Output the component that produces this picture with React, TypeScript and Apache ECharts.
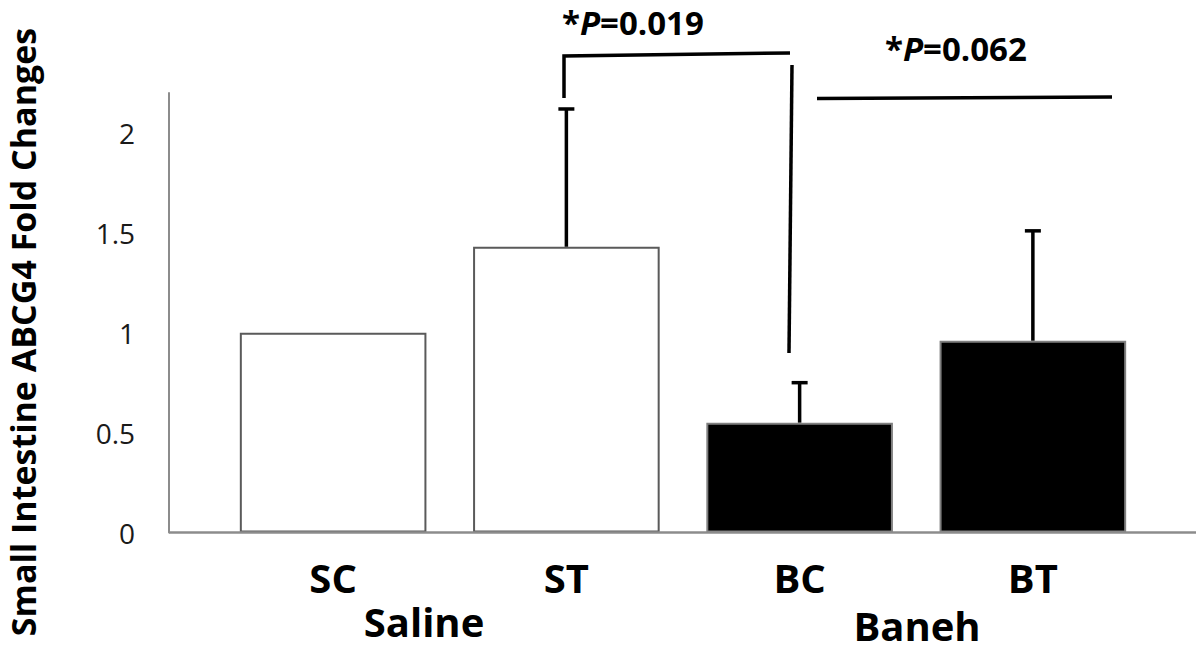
import React, { useEffect, useRef } from "react";
import * as echarts from "echarts";

const categories = ["SC", "ST", "BC", "BT"];
const means = [1.0, 1.43, 0.55, 0.96];
const upperErrors = [0, 0.69, 0.2, 0.55];
const yTicks = [0, 0.5, 1, 1.5, 2];
const groupLabels = ["Saline", "Baneh"];
const pValues = ["0.019", "0.062"];
const barFills = ["#ffffff", "#ffffff", "#000000", "#000000"];
const barBorders = ["#5a5a5a", "#5a5a5a", "#808080", "#808080"];

const FONT = "'Open Sans', 'Liberation Sans', sans-serif";

export default function App() {
  const ref = useRef<HTMLDivElement>(null);

  useEffect(() => {
    document.body.style.margin = "0";
    if (!ref.current) return;
    const chart = echarts.init(ref.current, null, { renderer: "svg" });

    const barData = means.map((v, i) => ({
      value: v,
      itemStyle: { color: barFills[i], borderColor: barBorders[i], borderWidth: 2 },
    }));
    const errData = means
      .map((m, i) => [i, m, m + upperErrors[i]])
      .filter((d) => d[2] > d[1]);

    const pStyle = (pv: string) => ({
      text: "{a|*}{b|P}{a|=" + pv + "}",
      verticalAlign: "middle",
      align: "left",
      rich: {
        a: { fontFamily: FONT, fontWeight: "bold", fontSize: 33, lineHeight: 30, fill: "#000" },
        b: { fontFamily: FONT, fontWeight: "bold", fontStyle: "italic", fontSize: 33, lineHeight: 30, fill: "#000" },
      },
    });

    chart.setOption({
      animation: false,
      backgroundColor: "#ffffff",
      grid: { left: 216.5, right: 50.5, top: 93, bottom: 120.5, containLabel: false },
      xAxis: {
        type: "category",
        data: categories,
        axisLine: { show: false },
        axisTick: { show: false },
        axisLabel: {
          color: "#000",
          fontFamily: FONT,
          fontWeight: "bold",
          fontSize: 40,
          margin: 25,
        },
      },
      yAxis: {
        type: "value",
        min: 0,
        max: 2.2,
        interval: 0.5,
        offset: 47.5,
        splitLine: { show: false },
        axisTick: { show: false },
        axisLine: { show: true, lineStyle: { color: "#8c8c8c", width: 2 } },
        axisLabel: {
          showMaxLabel: false,
          color: "#1a1a1a",
          fontFamily: FONT,
          fontSize: 28,
          margin: 34,
          formatter: (v: number) => (yTicks.includes(v) ? String(v) : ""),
        },
      },
      series: [
        {
          type: "bar",
          data: barData,
          barWidth: "80%",
        },
        {
          type: "custom",
          data: errData,
          renderItem: (params: any, api: any) => {
            const idx = api.value(0);
            const base = api.coord([idx, api.value(1)]);
            const top = api.coord([idx, api.value(2)]);
            const x = base[0];
            return {
              type: "group",
              children: [
                {
                  type: "line",
                  shape: { x1: x, y1: base[1], x2: x, y2: top[1] },
                  style: { stroke: "#000", lineWidth: 3.5 },
                },
                {
                  type: "line",
                  shape: { x1: x - 8, y1: top[1], x2: x + 8, y2: top[1] },
                  style: { stroke: "#000", lineWidth: 3.5 },
                },
              ],
            };
          },
          z: 3,
        },
      ],
      graphic: [
        {
          type: "line",
          shape: { x1: 169, y1: 532.5, x2: 1196, y2: 532.5 },
          style: { stroke: "#8c8c8c", lineWidth: 2.5 },
          z: 10,
        },
        {
          type: "text",
          x: 23,
          y: 332,
          rotation: Math.PI / 2,
          style: {
            text: "Small Intestine ABCG4 Fold Changes",
            fontFamily: FONT,
            fontWeight: "bold",
            fontSize: 34,
            lineHeight: 34,
            fill: "#000",
            align: "center",
            verticalAlign: "middle",
          },
        },
        {
          type: "text",
          x: 424,
          y: 621,
          style: {
            text: groupLabels[0],
            fontFamily: FONT,
            fontWeight: "bold",
            fontSize: 40,
            fill: "#000",
            align: "center",
            verticalAlign: "middle",
          },
        },
        {
          type: "text",
          x: 917,
          y: 625,
          style: {
            text: groupLabels[1],
            fontFamily: FONT,
            fontWeight: "bold",
            fontSize: 40,
            fill: "#000",
            align: "center",
            verticalAlign: "middle",
          },
        },
        { type: "text", x: 562, y: 22, style: pStyle(pValues[0]) },
        { type: "text", x: 885, y: 48, style: pStyle(pValues[1]) },
        {
          type: "polyline",
          shape: { points: [[564, 98], [564, 56], [790, 53]] },
          style: { stroke: "#000", lineWidth: 3.5, fill: "none" },
        },
        {
          type: "line",
          shape: { x1: 792, y1: 65, x2: 789, y2: 353 },
          style: { stroke: "#000", lineWidth: 3.5 },
        },
        {
          type: "line",
          shape: { x1: 817, y1: 98.5, x2: 1112, y2: 97 },
          style: { stroke: "#000", lineWidth: 3.5 },
        },
      ],
    });

    return () => chart.dispose();
  }, []);

  return <div ref={ref} style={{ width: 1200, height: 653 }} />;
}
